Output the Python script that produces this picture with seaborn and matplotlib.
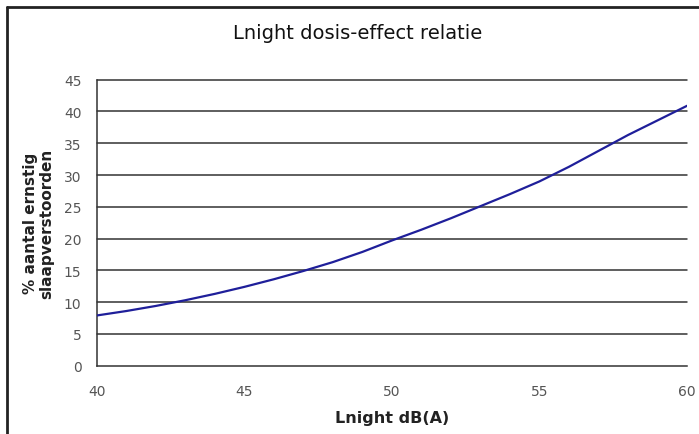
import seaborn as sns
import matplotlib.pyplot as plt
import pandas as pd
from matplotlib.lines import Line2D

# values
lnight = [40, 41, 42, 43, 44, 45, 46, 47, 48, 49, 50,
          51, 52, 53, 54, 55, 56, 57, 58, 59, 60]
pct_hsd = [7.9, 8.6, 9.4, 10.3, 11.3, 12.4, 13.6, 14.9, 16.3, 17.9, 19.7,
           21.4, 23.2, 25.1, 27.0, 29.0, 31.3, 33.8, 36.3, 38.6, 40.9]
x_ticks = [40, 45, 50, 55, 60]
y_ticks = [0, 5, 10, 15, 20, 25, 30, 35, 40, 45]

df = pd.DataFrame({"Lnight": lnight, "pct": pct_hsd})

sns.set_style("white")
plt.rcParams['font.family'] = ['DejaVu Sans']

fig = plt.figure(figsize=(6.99, 4.35), dpi=100)
ax = fig.add_axes([0.1383, 0.157, 0.8447, 0.6575])

for y in y_ticks[1:]:
    ax.axhline(y, color="#333333", lw=1.1, zorder=1, clip_on=False)

sns.lineplot(data=df, x="Lnight", y="pct", ax=ax, color="#1f1f9a", lw=1.6, zorder=3)

ax.set_xlim(40, 60)
ax.set_ylim(0, 45)
ax.set_xticks(x_ticks)
ax.set_yticks(y_ticks)
ax.tick_params(axis="both", labelsize=10, colors="#333333", labelcolor="#555555",
               length=5, width=1, direction="out")
ax.tick_params(axis="y", pad=6)
ax.tick_params(axis="x", pad=8)

for s in ["top", "right"]:
    ax.spines[s].set_visible(False)
for s in ["left", "bottom"]:
    ax.spines[s].set_color("#333333")
    ax.spines[s].set_linewidth(1.1)

ax.set_xlabel("Lnight dB(A)", fontsize=11.5, fontweight="bold", color="#222222", labelpad=9)
ax.set_ylabel("% aantal ernstig\nslaapverstoorden", fontsize=11, fontweight="bold",
              color="#222222", labelpad=7, linespacing=1.05)
fig.text(0.511, 0.924, "Lnight dosis-effect relatie", ha="center", va="center",
         fontsize=14, color="#111111")

# chart frame (left and top edges only visible in reference)
fig.add_artist(Line2D([0.0105, 0.0105], [0.0, 0.981], transform=fig.transFigure,
                      color="#222222", lw=2))
fig.add_artist(Line2D([0.0105, 1.0], [0.981, 0.981], transform=fig.transFigure,
                      color="#222222", lw=2))

fig.savefig("out.png", dpi=100)
